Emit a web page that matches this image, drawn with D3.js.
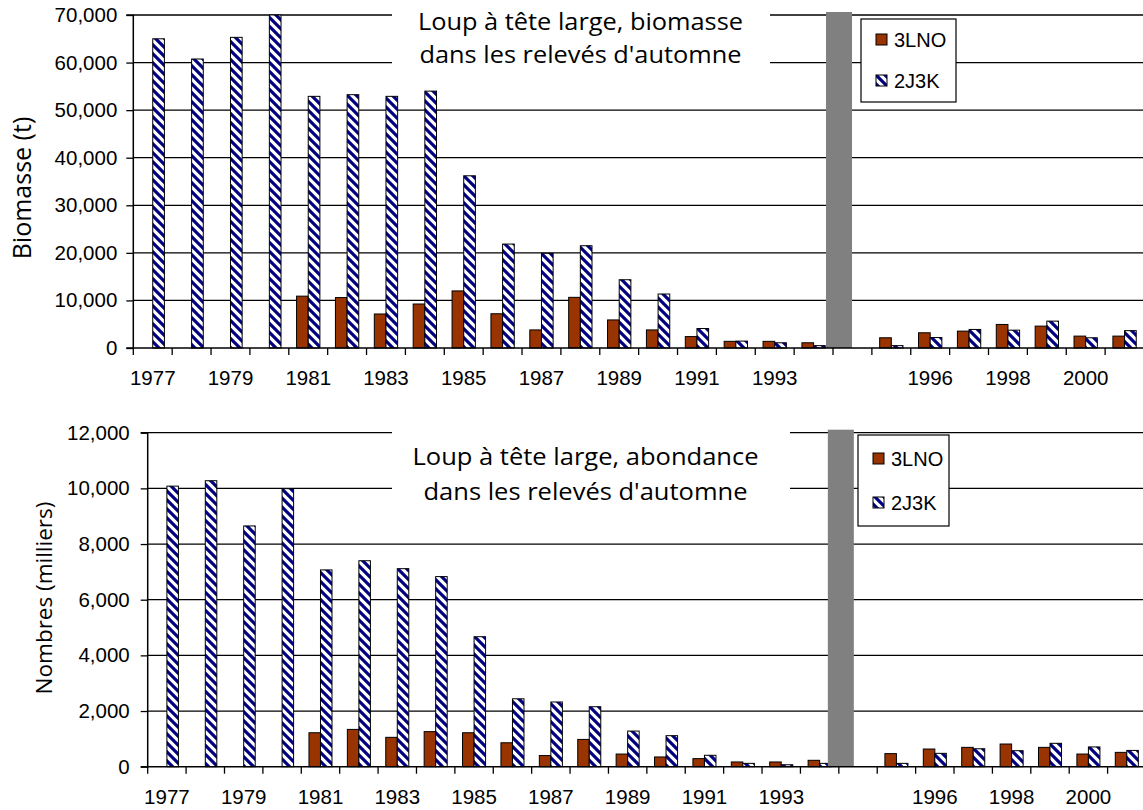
<!DOCTYPE html>
<html>
<head>
<meta charset="utf-8">
<script src="https://cdn.jsdelivr.net/npm/d3@7"></script>
<style>
  html, body { margin: 0; padding: 0; background: #fff; }
  svg { display: block; }
</style>
</head>
<body>
<svg id="chart" width="1143" height="810"></svg>
<script>
// Survey years; "gap" is the series break between 1994 and 1995
const categories = ["1977","1978","1979","1980","1981","1982","1983","1984","1985","1986",
  "1987","1988","1989","1990","1991","1992","1993","1994","gap",
  "1995","1996","1997","1998","1999","2000","2001"];
const tickLabels = ["1977","1979","1981","1983","1985","1987","1989","1991","1993","1996","1998","2000"];
const seriesNames = ["3LNO", "2J3K"];

// Biomass (t)
const biomass3LNO = [null,null,null,null,10900,10600,7150,9250,12000,7200,
  3800,10650,5900,3800,2400,1400,1400,1100,null,
  2150,3200,3550,4950,4600,2500,2500];
const biomass2J3K = [65000,60750,65300,70000,52900,53250,52900,54000,36200,21850,
  19900,21500,14350,11350,4100,1450,1100,500,null,
  500,2200,3900,3750,5650,2150,3650];
const biomassTicks = [0,10000,20000,30000,40000,50000,60000,70000];

// Abundance (thousands)
const abund3LNO = [null,null,null,null,1220,1340,1055,1260,1220,860,
  400,980,455,350,290,170,170,230,null,
  470,635,695,815,695,455,515];
const abund2J3K = [10080,10275,8650,9990,7070,7400,7115,6830,4670,2440,
  2325,2155,1280,1115,410,120,70,120,null,
  120,480,645,575,840,710,585];
const abundTicks = [0,2000,4000,6000,8000,10000,12000];

const svg = d3.select("#chart");
const defs = svg.append("defs");

const stripe = defs.append("pattern")
  .attr("id", "stripes")
  .attr("patternUnits", "userSpaceOnUse")
  .attr("width", 9).attr("height", 9);
stripe.append("rect").attr("width", 9).attr("height", 9).attr("fill", "#fff");
stripe.append("path")
  .attr("d", "M-3,-3 L12,12 M-3,6 L3,12 M6,-3 L12,3")
  .attr("stroke", "#000080").attr("stroke-width", 3.2);

const BROWN = "#993300";
const NUM_FONT = "'Liberation Sans', Arial, sans-serif";
const TXT_FONT = "'Open Sans', 'Noto Sans', sans-serif";
const NUM_SIZE = 20.5;

function drawPanel(cfg) {
  const g = svg.append("g");
  const x = d3.scaleBand().domain(categories).range([cfg.left, cfg.right]).padding(0);
  const y = d3.scaleLinear().domain([0, cfg.max]).range([cfg.bottom, cfg.top]);
  const bw = x.bandwidth() * 0.3;

  // horizontal gridlines
  g.append("g").selectAll("line").data(cfg.ticks.filter(d => d > 0)).join("line")
    .attr("x1", cfg.left).attr("x2", cfg.right)
    .attr("y1", d => y(d)).attr("y2", d => y(d))
    .attr("stroke", "#000").attr("stroke-width", 1.3);

  // white panel behind the title
  g.append("rect")
    .attr("x", cfg.titleBox[0]).attr("y", cfg.titleBox[1])
    .attr("width", cfg.titleBox[2]).attr("height", cfg.titleBox[3])
    .attr("fill", "#fff");

  const rows = categories.map((c, i) => ({ c, a: cfg.s1[i], b: cfg.s2[i] }));

  // 3LNO bars
  g.append("g").selectAll("rect").data(rows.filter(d => d.a != null)).join("rect")
    .attr("x", d => x(d.c) + x.bandwidth() / 2 - bw)
    .attr("y", d => y(d.a))
    .attr("width", bw)
    .attr("height", d => y(0) - y(d.a))
    .attr("fill", BROWN).attr("stroke", "#000").attr("stroke-width", 1);

  // 2J3K bars
  g.append("g").selectAll("rect").data(rows.filter(d => d.b != null)).join("rect")
    .attr("x", d => x(d.c) + x.bandwidth() / 2)
    .attr("y", d => y(d.b))
    .attr("width", bw)
    .attr("height", d => y(0) - y(d.b))
    .attr("fill", "url(#stripes)").attr("stroke", "#000").attr("stroke-width", 1);

  // gray divider marking the break in the series
  g.append("rect")
    .attr("x", x("gap") + cfg.gapShift)
    .attr("y", cfg.top - 3)
    .attr("width", 26)
    .attr("height", y(0) - cfg.top + 3)
    .attr("fill", "#808080");

  // y axis
  const yAxis = d3.axisLeft(y).tickValues(cfg.ticks).tickSize(7)
    .tickPadding(cfg.yPad).tickFormat(d3.format(","));
  const ya = g.append("g").attr("transform", `translate(${cfg.left},0)`).call(yAxis);
  ya.select(".domain").attr("stroke", "#000").attr("stroke-width", 1.5)
    .attr("d", `M-7,${y(cfg.max)}H0V${y(0)}H-7`);
  ya.selectAll(".tick line").attr("stroke", "#000").attr("stroke-width", 1.3);
  ya.selectAll(".tick text").attr("font-family", NUM_FONT).attr("font-size", NUM_SIZE).attr("fill", "#000");

  // x axis line, tick marks at category boundaries, labels on alternate years
  g.append("line").attr("x1", cfg.left).attr("x2", cfg.right)
    .attr("y1", y(0)).attr("y2", y(0)).attr("stroke", "#000").attr("stroke-width", 1.5);
  g.append("g").selectAll("line").data(categories).join("line")
    .attr("x1", d => x(d)).attr("x2", d => x(d))
    .attr("y1", y(0)).attr("y2", y(0) + 7)
    .attr("stroke", "#000").attr("stroke-width", 1.3);
  g.append("g").selectAll("text").data(tickLabels).join("text")
    .attr("x", d => x(d) + x.bandwidth() / 2)
    .attr("y", y(0) + 37)
    .attr("text-anchor", "middle")
    .attr("font-family", NUM_FONT).attr("font-size", NUM_SIZE).attr("fill", "#000")
    .text(d => d);

  // title
  cfg.title.forEach((t, i) => {
    g.append("text")
      .attr("x", cfg.titleX).attr("y", cfg.titleY[i])
      .attr("text-anchor", "middle")
      .attr("font-family", TXT_FONT).attr("font-size", 23.5).attr("fill", "#000")
      .attr("textLength", cfg.titleW[i]).attr("lengthAdjust", "spacingAndGlyphs")
      .text(t);
  });

  // y axis title
  g.append("text")
    .attr("transform", `translate(${cfg.yTitleX},${cfg.yTitleY}) rotate(-90)`)
    .attr("text-anchor", "middle")
    .attr("font-family", TXT_FONT).attr("font-size", cfg.yTitleSize).attr("fill", "#000")
    .text(cfg.yTitle);

  // legend
  const L = cfg.legend;
  const lg = g.append("g");
  lg.append("rect").attr("x", L.x).attr("y", L.y).attr("width", L.w).attr("height", L.h)
    .attr("fill", "#fff").attr("stroke", "#000").attr("stroke-width", 1.2);
  seriesNames.forEach((name, i) => {
    const cy = L.y + L.rowY[i];
    lg.append("rect").attr("x", L.x + 15).attr("y", cy - 6).attr("width", 11).attr("height", 11)
      .attr("fill", i === 0 ? BROWN : "url(#stripes)")
      .attr("stroke", "#000").attr("stroke-width", 1);
    lg.append("text").attr("x", L.x + 33).attr("y", cy + 7)
      .attr("font-family", NUM_FONT).attr("font-size", 20).attr("fill", "#000")
      .text(name);
  });
}

drawPanel({
  left: 133.3, right: 1144, top: 15, bottom: 348, max: 70000,
  ticks: biomassTicks, s1: biomass3LNO, s2: biomass2J3K,
  yPad: 9, gapShift: -7,
  titleBox: [392, 2, 378, 80],
  title: ["Loup à tête large, biomasse", "dans les relevés d'automne"],
  titleX: 580.5, titleY: [30, 63], titleW: [325, 322],
  yTitle: "Biomasse (t)", yTitleX: 31, yTitleY: 188, yTitleSize: 25,
  legend: { x: 861, y: 19, w: 95, h: 83, rowY: [21, 62] }
});

drawPanel({
  left: 147.7, right: 1146, top: 432.7, bottom: 766.7, max: 12000,
  ticks: abundTicks, s1: abund3LNO, s2: abund2J3K,
  yPad: 11, gapShift: -11,
  titleBox: [392, 426, 398, 100],
  title: ["Loup à tête large, abondance", "dans les relevés d'automne"],
  titleX: 585.5, titleY: [465, 500], titleW: [346, 324],
  yTitle: "Nombres (milliers)", yTitleX: 52, yTitleY: 598, yTitleSize: 22.5,
  legend: { x: 858, y: 435, w: 91, h: 91, rowY: [24, 68] }
});
</script>
</body>
</html>
